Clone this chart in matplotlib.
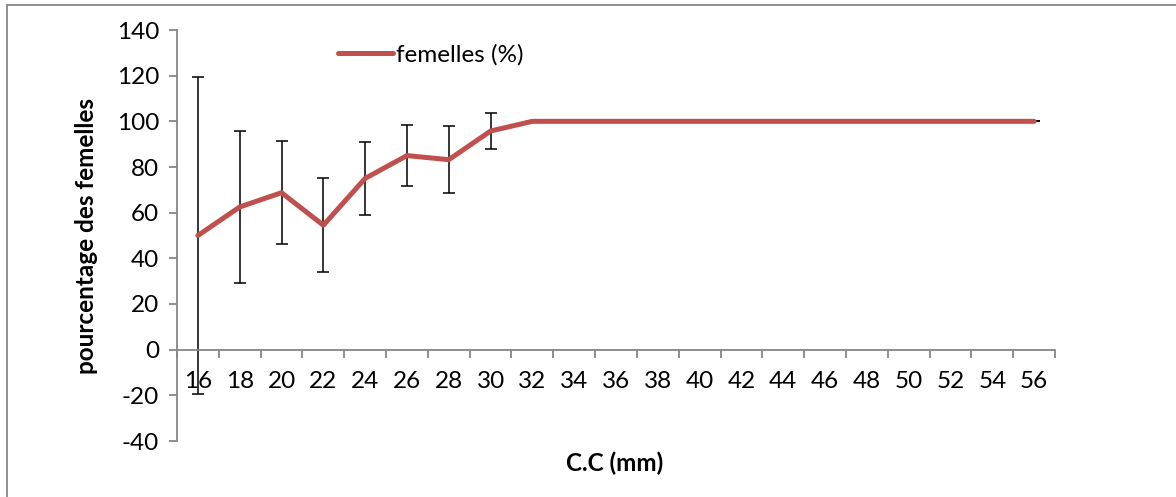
import matplotlib.pyplot as plt
from matplotlib.patches import Rectangle

# Carapace width classes (mm) and percentage of females per class
tailles = [16, 18, 20, 22, 24, 26, 28, 30, 32, 34, 36, 38, 40,
           42, 44, 46, 48, 50, 52, 54, 56]
femelles = [50, 62.5, 68.75, 54.5, 75, 85, 83.2, 95.75, 100, 100, 100, 100, 100,
            100, 100, 100, 100, 100, 100, 100, 100]
erreurs = [69.3, 33.4, 22.65, 20.7, 16, 13.3, 14.8, 8, 0, 0, 0, 0, 0,
           0, 0, 0, 0, 0, 0, 0, 0]

plt.rcParams["font.family"] = ["Lato", "DejaVu Sans"]
plt.rcParams["axes.unicode_minus"] = False

fs = 17.5

fig = plt.figure(figsize=(11.76, 4.97), dpi=100)
ax = fig.add_axes([177 / 1176, 1 - 441 / 497, (1055 - 177) / 1176, (441 - 30) / 497])

pos = list(range(len(tailles)))

# Error bars sit under the line
ax.errorbar(pos, femelles, yerr=erreurs, fmt="none", ecolor="black",
            elinewidth=1.1, capsize=4, capthick=1.1, zorder=2)
ax.plot(pos, femelles, color="#C0504D", linewidth=3.6,
        solid_capstyle="round", label="femelles (%)", zorder=3)

ax.set_xlim(-0.5, len(tailles) - 0.5)
ax.set_ylim(-40, 140)
ax.set_yticks(range(-40, 141, 20))

# Category axis: tick marks between classes, labels centred on classes
ax.set_xticks([p - 0.5 for p in pos] + [pos[-1] + 0.5])
ax.set_xticklabels([])
ax.set_xticks(pos, minor=True)
ax.set_xticklabels([str(t) for t in tailles], minor=True)
ax.tick_params(axis="x", which="major", direction="out", length=6,
               width=1.3, color="#868686")
ax.tick_params(axis="x", which="minor", length=0, pad=15, labelsize=fs)
ax.tick_params(axis="y", direction="out", length=6, width=1.3,
               color="#868686", labelsize=fs, pad=7)

for side in ["top", "right"]:
    ax.spines[side].set_visible(False)
ax.spines["bottom"].set_position(("data", 0))
for side in ["left", "bottom"]:
    ax.spines[side].set_color("#868686")
    ax.spines[side].set_linewidth(1.3)

ax.set_ylabel("pourcentage des femelles", fontsize=fs, fontweight="bold")
ax.yaxis.set_label_coords(-0.09, 0.5)
fig.text(615 / 1176, 1 - 463 / 497, "C.C (mm)", fontsize=fs,
         fontweight="bold", ha="center", va="center")

ax.legend(loc="upper left", bbox_to_anchor=(161 / 878, 0.966), frameon=False,
          fontsize=fs, handlelength=2.25, handletextpad=0.15, borderpad=0,
          borderaxespad=0)

# Chart area border
fig.patches.append(Rectangle((7 / 1176, -0.1), 1.2, 1 - 5 / 497 + 0.1,
                             transform=fig.transFigure, fill=False,
                             edgecolor="#868686", linewidth=1.3))

fig.savefig("out.png", dpi=100)
